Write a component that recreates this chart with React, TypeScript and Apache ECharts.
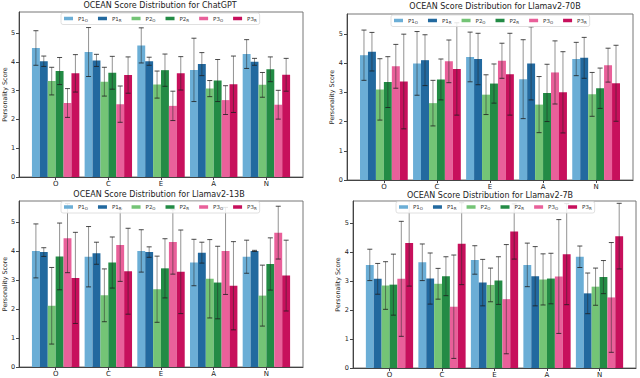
import React, { useEffect, useRef } from 'react';
import * as echarts from 'echarts';

const categories = ['O', 'C', 'E', 'A', 'N'];
const seriesNames = ['P1_O', 'P1_R', 'P2_O', 'P2_R', 'P3_O', 'P3_R'];
const seriesColors = ['#6baed6', '#22699f', '#74c476', '#238b45', '#e9609a', '#c7105c'];
const modelNames = ['ChatGPT', 'Llamav2-70B', 'Llamav2-13B', 'Llamav2-7B'];
const yTicks = [0, 1, 2, 3, 4, 5];
const yMaxes = [5.73, 5.68, 5.72, 5.75];

// rows: series (P1_O, P1_R, P2_O, P2_R, P3_O, P3_R); columns: O, C, E, A, N
const chatgptMean = [
  [4.48, 4.34, 4.57, 3.72, 4.27],
  [4.02, 4.05, 4.02, 3.92, 4.0],
  [3.33, 3.31, 3.21, 3.07, 3.2],
  [3.68, 3.62, 3.71, 3.35, 3.74],
  [2.57, 2.53, 2.47, 2.67, 2.51],
  [3.6, 3.54, 3.6, 3.22, 3.55],
];
const chatgptStd = [
  [0.6, 0.85, 0.61, 1.1, 0.5],
  [0.18, 0.21, 0.14, 0.4, 0.12],
  [0.48, 0.5, 0.47, 0.28, 0.43],
  [0.47, 0.57, 0.56, 0.73, 0.43],
  [0.5, 0.63, 0.51, 0.5, 0.5],
  [0.65, 0.63, 0.58, 0.98, 0.57],
];
const llama70Mean = [
  [4.27, 3.99, 4.21, 3.45, 4.14],
  [4.39, 4.1, 4.14, 3.99, 4.18],
  [3.1, 2.63, 2.92, 2.58, 2.93],
  [3.35, 3.44, 3.3, 2.98, 3.14],
  [3.89, 4.06, 4.08, 3.68, 3.93],
  [3.37, 3.8, 3.62, 3.0, 3.31],
];
const llama70Std = [
  [0.86, 1.09, 0.85, 1.35, 0.57],
  [0.66, 0.87, 0.88, 1.25, 0.7],
  [1.05, 0.78, 0.68, 0.96, 0.75],
  [0.87, 0.7, 0.67, 0.98, 0.69],
  [0.75, 0.73, 0.6, 1.08, 0.58],
  [1.62, 1.58, 1.4, 1.39, 1.3],
];
const llama13Mean = [
  [4.0, 3.8, 4.0, 3.6, 3.8],
  [3.96, 3.92, 3.96, 3.94, 4.0],
  [2.11, 2.47, 2.68, 3.04, 2.46],
  [3.81, 3.6, 3.4, 2.91, 3.55],
  [4.44, 4.2, 4.31, 4.0, 4.63],
  [3.07, 3.3, 3.28, 2.8, 3.15],
];
const llama13Std = [
  [0.93, 1.04, 0.73, 0.8, 0.57],
  [0.15, 0.38, 0.18, 0.36, 0.02],
  [1.32, 0.91, 1.14, 1.35, 1.05],
  [1.15, 0.88, 1.02, 1.25, 0.9],
  [1.19, 1.25, 1.11, 1.5, 0.91],
  [1.57, 1.48, 1.44, 1.52, 1.22],
];
const llama7Mean = [
  [3.55, 3.64, 3.72, 3.55, 3.83],
  [3.07, 3.08, 2.94, 3.16, 2.57],
  [2.84, 2.9, 2.86, 3.05, 2.8],
  [2.87, 3.16, 3.01, 3.08, 3.13],
  [3.07, 2.11, 2.37, 3.15, 2.43],
  [4.3, 4.28, 4.7, 3.92, 4.54],
];
const llama7Std = [
  [0.54, 0.63, 0.49, 0.75, 0.37],
  [0.53, 0.88, 0.8, 1.02, 0.7],
  [0.82, 0.53, 0.58, 0.88, 0.64],
  [1.05, 0.67, 0.82, 0.87, 0.57],
  [1.98, 1.78, 1.88, 1.96, 1.89],
  [1.48, 1.41, 0.95, 1.74, 1.13],
];

const modelMeans = [chatgptMean, llama70Mean, llama13Mean, llama7Mean];
const modelStds = [chatgptStd, llama70Std, llama13Std, llama7Std];

// layout (pixels)
const panels = [
  { left: 18, top: 12, width: 285, height: 165, titleX: 160, titleY: 1, legendX: 61, legendY: 13 },
  { left: 347, top: 14, width: 286, height: 166, titleX: 495, titleY: 2, legendX: 391, legendY: 15 },
  { left: 18, top: 201, width: 285, height: 166, titleX: 159, titleY: 190, legendX: 61, legendY: 201.5 },
  { left: 353, top: 201, width: 283, height: 167, titleX: 490, titleY: 191.5, legendX: 396, legendY: 201.5 },
];

const BAR_W = 0.15;
const FONT = 'DejaVu Sans';

function makeRender(s: number, color: string) {
  return (params: any, api: any) => {
    const ci = api.value(0);
    const m = api.value(1);
    const sd = api.value(2);
    const xc = ci + (s - 2.5) * BAR_W;
    const base = api.coord([xc, 0]);
    const top = api.coord([xc, m]);
    const hi = api.coord([xc, m + sd]);
    const lo = api.coord([xc, m - sd]);
    const w = api.size([BAR_W, 0])[0];
    const cap = 2.5;
    return {
      type: 'group',
      children: [
        {
          type: 'rect',
          shape: { x: base[0] - w / 2, y: top[1], width: w, height: base[1] - top[1] },
          style: { fill: color },
        },
        {
          type: 'line',
          shape: { x1: base[0], y1: hi[1], x2: base[0], y2: lo[1] },
          style: { stroke: 'rgba(40,40,40,0.5)', lineWidth: 1 },
        },
        {
          type: 'line',
          shape: { x1: base[0] - cap, y1: hi[1], x2: base[0] + cap, y2: hi[1] },
          style: { stroke: 'rgba(30,30,30,0.8)', lineWidth: 1 },
        },
        {
          type: 'line',
          shape: { x1: base[0] - cap, y1: lo[1], x2: base[0] + cap, y2: lo[1] },
          style: { stroke: 'rgba(30,30,30,0.8)', lineWidth: 1 },
        },
      ],
    };
  };
}

function legendFormatter(name: string) {
  const [a, b] = name.split('_');
  return `{a|${a}}{b|${b}}`;
}

function buildOption() {
  const grid: any[] = [];
  const xAxis: any[] = [];
  const yAxis: any[] = [];
  const title: any[] = [];
  const legend: any[] = [];
  const series: any[] = [];

  panels.forEach((p, g) => {
    grid.push({
      left: p.left,
      top: p.top,
      width: p.width,
      height: p.height,
      show: true,
      borderColor: '#777',
      borderWidth: 1,
      backgroundColor: 'transparent',
    });
    xAxis.push({
      type: 'value',
      gridIndex: g,
      min: -0.695,
      max: 4.695,
      axisLine: { show: true, onZero: false, lineStyle: { color: '#444', width: 1 } },
      axisTick: { show: true, customValues: [0, 1, 2, 3, 4], length: 3, lineStyle: { color: '#444' } },
      axisLabel: {
        customValues: [0, 1, 2, 3, 4],
        formatter: (v: number) => categories[Math.round(v)] ?? '',
        fontSize: 7,
        fontFamily: FONT,
        color: '#222',
        margin: 3,
      },
      splitLine: { show: false },
    });
    yAxis.push({
      type: 'value',
      gridIndex: g,
      min: 0,
      max: yMaxes[g],
      interval: 1,
      name: 'Personality Score',
      nameLocation: 'middle',
      nameGap: 10,
      nameTextStyle: { fontSize: 6.3, fontFamily: FONT, color: '#222' },
      axisLine: { show: true, onZero: false, lineStyle: { color: '#444', width: 1 } },
      axisTick: { show: true, customValues: yTicks, length: 3, lineStyle: { color: '#444' } },
      axisLabel: {
        customValues: yTicks,
        fontSize: 6.5,
        fontFamily: FONT,
        color: '#222',
        margin: 4,
      },
      splitLine: { show: false },
    });
    title.push({
      text: 'OCEAN Score Distribution for ' + modelNames[g],
      left: p.titleX,
      top: p.titleY,
      textAlign: 'center',
      padding: 0,
      textStyle: { fontSize: 8, fontWeight: 'normal', fontFamily: FONT, color: '#222' },
    });
    legend.push({
      data: seriesNames,
      left: p.legendX,
      top: p.legendY,
      orient: 'horizontal',
      icon: 'rect',
      itemWidth: 9,
      itemHeight: 3.5,
      itemGap: 10,
      padding: [2.5, 3, 2.5, 3],
      borderColor: '#d8d8d8',
      borderWidth: 0.8,
      borderRadius: 2,
      backgroundColor: 'rgba(255,255,255,0.85)',
      selectedMode: false,
      formatter: legendFormatter,
      textStyle: {
        fontFamily: FONT,
        color: '#333',
        rich: {
          a: { fontSize: 5.5, fontFamily: FONT, color: '#333' },
          b: { fontSize: 4, fontFamily: FONT, color: '#333', verticalAlign: 'bottom', padding: [3, 0, 0, 0] },
        },
      },
    });
    const means = modelMeans[g];
    const stds = modelStds[g];
    seriesNames.forEach((name, s) => {
      series.push({
        type: 'custom',
        name,
        xAxisIndex: g,
        yAxisIndex: g,
        clip: true,
        itemStyle: { color: seriesColors[s] },
        encode: { x: 0, y: 1 },
        renderItem: makeRender(s, seriesColors[s]),
        data: categories.map((_, ci) => [ci, means[s][ci], stds[s][ci]]),
      });
    });
  });

  return {
    animation: false,
    backgroundColor: '#ffffff',
    textStyle: { fontFamily: FONT },
    grid,
    xAxis,
    yAxis,
    title,
    legend,
    series,
  };
}

export default function App() {
  const ref = useRef<HTMLDivElement>(null);
  useEffect(() => {
    document.body.style.margin = '0';
    if (!ref.current) return;
    const chart = echarts.init(ref.current, undefined, { renderer: 'svg' });
    chart.setOption(buildOption() as any);
    return () => chart.dispose();
  }, []);
  return (
    <div
      ref={ref}
      style={{ position: 'absolute', left: 0, top: 0, width: 640, height: 378, background: '#fff' }}
    />
  );
}
